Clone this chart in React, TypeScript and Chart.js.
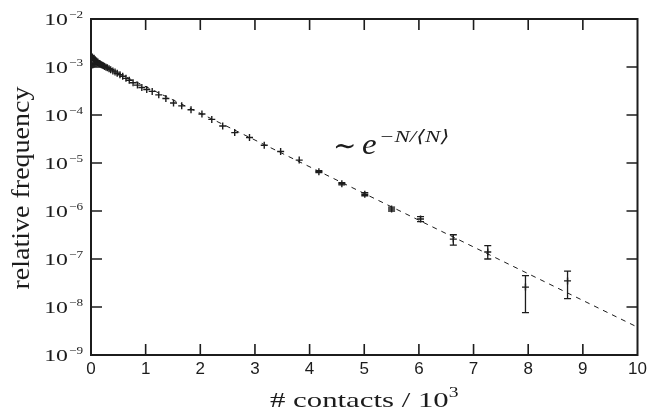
import React, { useEffect, useRef } from "react";
import { Chart, registerables } from "chart.js";

Chart.register(...registerables);

// ---- data (x in units of 10^3 contacts) ----
const contactsK = [
  0.005, 0.015, 0.025, 0.035, 0.045, 0.055, 0.065, 0.075, 0.085, 0.095, 0.105, 0.115, 0.125,
  0.14, 0.155, 0.17, 0.19, 0.21, 0.23, 0.25, 0.275, 0.3,
  0.33, 0.36, 0.4, 0.44, 0.48, 0.53, 0.58, 0.64, 0.7, 0.77, 0.85, 0.93,
  1.02, 1.12, 1.24, 1.37, 1.51, 1.66, 1.83,
  2.03, 2.21, 2.41, 2.63, 2.9, 3.17, 3.47, 3.81, 4.17, 4.59,
  5.01, 5.5, 6.03, 6.63, 7.26, 7.95, 8.72,
];
const relFreq = [
  1.75e-3, 1.1e-3, 1.62e-3, 1.12e-3, 1.5e-3, 1.15e-3, 1.42e-3, 1.18e-3, 1.36e-3, 1.2e-3, 1.31e-3, 1.21e-3, 1.27e-3,
  1.2e-3, 1.18e-3, 1.15e-3, 1.12e-3, 1.09e-3, 1.06e-3, 1.03e-3, 9.9e-4, 9.6e-4,
  9.2e-4, 8.8e-4, 8.3e-4, 7.9e-4, 7.4e-4, 6.9e-4, 6.4e-4, 5.8e-4, 5.3e-4, 4.7e-4, 4.2e-4, 3.75e-4,
  3.4e-4, 3.1e-4, 2.63e-4, 2.2e-4, 1.78e-4, 1.55e-4, 1.29e-4,
  1.05e-4, 8.1e-5, 5.9e-5, 4.3e-5, 3.4e-5, 2.35e-5, 1.74e-5, 1.15e-5, 6.6e-6, 3.7e-6,
  2.24e-6, 1.1e-6, 6.8e-7, 2.6e-7, 1.4e-7, 2.6e-8, 3.5e-8,
];
// error bars (only where they are visible)
const errX = [4.17, 4.59, 5.01, 5.5, 6.03, 6.63, 7.26, 7.95, 8.72];
const errLow = [6.3e-6, 3.5e-6, 2.08e-6, 1.0e-6, 6.0e-7, 1.95e-7, 1.0e-7, 7.6e-9, 1.5e-8];
const errHigh = [6.9e-6, 3.9e-6, 2.42e-6, 1.21e-6, 7.6e-7, 3.2e-7, 1.9e-7, 4.5e-8, 5.6e-8];
// exponential fit ~ exp(-N/<N>) (straight on a log axis)
const fitX = [0, 10];
const fitY = [1.41e-3, 3.8e-9];
// ticks
const xTickValues = [0, 1, 2, 3, 4, 5, 6, 7, 8, 9, 10];
const yTickExponents = [-2, -3, -4, -5, -6, -7, -8, -9];

const SERIF = '"Liberation Serif", "DejaVu Serif", serif';
const SANS = '"Liberation Sans Narrow", "Liberation Sans", sans-serif';
const INK = "#1c1c1c";

function drawStretched(
  ctx: CanvasRenderingContext2D,
  text: string,
  x: number,
  y: number,
  font: string,
  align: "left" | "center" | "right",
  stretch: number,
  baseline: CanvasTextBaseline = "middle"
) {
  ctx.save();
  ctx.font = font;
  ctx.textBaseline = baseline;
  ctx.textAlign = "left";
  const w = ctx.measureText(text).width * stretch;
  const x0 = align === "right" ? x - w : align === "center" ? x - w / 2 : x;
  ctx.translate(x0, y);
  ctx.scale(stretch, 1);
  ctx.fillText(text, 0, 0);
  ctx.restore();
  return w;
}

function drawFitWidth(
  ctx: CanvasRenderingContext2D,
  text: string,
  cx: number,
  cy: number,
  font: string,
  width: number
) {
  ctx.save();
  ctx.font = font;
  const s = width / ctx.measureText(text).width;
  ctx.restore();
  drawStretched(ctx, text, cx, cy, font, "center", s);
}

const framePlugin = {
  id: "frameAndText",
  afterDatasetsDraw(chart: any) {
    const ctx: CanvasRenderingContext2D = chart.ctx;
    const xs = chart.scales.x;
    const ys = chart.scales.y;
    ctx.save();
    ctx.strokeStyle = INK;
    ctx.lineWidth = 1.3;
    for (let i = 0; i < errX.length; i++) {
      const px = xs.getPixelForValue(errX[i]);
      const lo = ys.getPixelForValue(errLow[i]);
      const hi = ys.getPixelForValue(errHigh[i]);
      ctx.beginPath();
      ctx.moveTo(px, lo);
      ctx.lineTo(px, hi);
      ctx.moveTo(px - 3.5, lo);
      ctx.lineTo(px + 3.5, lo);
      ctx.moveTo(px - 3.5, hi);
      ctx.lineTo(px + 3.5, hi);
      ctx.stroke();
    }
    ctx.restore();
  },
  afterDraw(chart: any) {
    const ctx: CanvasRenderingContext2D = chart.ctx;
    const { left, right, top, bottom } = chart.chartArea;
    const xs = chart.scales.x;
    const ys = chart.scales.y;
    ctx.save();
    ctx.strokeStyle = INK;
    ctx.fillStyle = INK;
    // frame
    ctx.lineWidth = 2;
    ctx.strokeRect(left, top, right - left, bottom - top);
    // inward ticks
    ctx.lineWidth = 1.6;
    const tl = 11;
    ctx.beginPath();
    for (const v of xTickValues) {
      const px = xs.getPixelForValue(v);
      if (px <= left + 1 || px >= right - 1) continue;
      ctx.moveTo(px, bottom);
      ctx.lineTo(px, bottom - tl);
      ctx.moveTo(px, top);
      ctx.lineTo(px, top + tl);
    }
    for (const e of yTickExponents) {
      const py = ys.getPixelForValue(Math.pow(10, e));
      if (py <= top + 1 || py >= bottom - 1) continue;
      ctx.moveTo(left, py);
      ctx.lineTo(left + tl, py);
      ctx.moveTo(right, py);
      ctx.lineTo(right - tl, py);
    }
    ctx.stroke();

    // x tick labels
    for (const v of xTickValues) {
      const px = xs.getPixelForValue(v);
      drawStretched(ctx, String(v), px, bottom + 14, `17px ${SANS}`, "center", 1.0);
    }
    // y tick labels 10^e
    for (const e of yTickExponents) {
      const py = ys.getPixelForValue(Math.pow(10, e));
      const expText = "\u2212" + String(-e);
      const w = drawStretched(ctx, expText, left - 8, py - 4, `11px ${SERIF}`, "right", 1.2);
      drawStretched(ctx, "10", left - 8 - w - 1, py + 2, `17px ${SERIF}`, "right", 1.4);
    }
    // x title
    const cx = (left + right) / 2;
    ctx.save();
    ctx.font = `22px ${SERIF}`;
    const mainPart = "# contacts / 10";
    const s1 = 1.4;
    const wMain = ctx.measureText(mainPart).width * s1;
    ctx.font = `14px ${SERIF}`;
    const wSup = ctx.measureText("3").width * s1;
    ctx.restore();
    const x0 = cx - (wMain + wSup) / 2;
    drawStretched(ctx, mainPart, x0, 407, `22px ${SERIF}`, "left", s1, "alphabetic");
    drawStretched(ctx, "3", x0 + wMain, 397, `14px ${SERIF}`, "left", s1, "alphabetic");

    // y title (rotated)
    ctx.save();
    ctx.translate(22, (top + bottom) / 2 + 1);
    ctx.rotate(-Math.PI / 2);
    drawFitWidth(ctx, "relative frequency", 0, 0, `25px ${SERIF}`, 203);
    ctx.restore();

    // annotation ~ e^{-N/<N>}
    drawStretched(ctx, "\u223C", 333, 148, `28px ${SERIF}`, "left", 1.0);
    drawStretched(ctx, "e", 362, 154, `italic 30px ${SERIF}`, "left", 1.1, "alphabetic");
    drawStretched(ctx, "\u2212N/\u27E8N\u27E9", 379, 142, `italic 17px ${SERIF}`, "left", 1.35, "alphabetic");
    ctx.restore();
  },
};

export default function App() {
  const canvasRef = useRef<HTMLCanvasElement | null>(null);

  useEffect(() => {
    if (!canvasRef.current) return;
    const points = contactsK.map((x, i) => ({ x, y: relFreq[i] }));
    const fit = fitX.map((x, i) => ({ x, y: fitY[i] }));
    const chart = new Chart(canvasRef.current, {
      type: "scatter",
      data: {
        datasets: [
          {
            type: "line",
            label: "fit",
            data: fit,
            borderColor: INK,
            borderWidth: 1,
            borderDash: [5, 5],
            pointRadius: 0,
            fill: false,
            order: 2,
          } as any,
          {
            label: "data",
            data: points,
            pointStyle: "cross",
            pointRadius: 3.5,
            pointHoverRadius: 3.5,
            borderColor: INK,
            backgroundColor: INK,
            borderWidth: 1.4,
            showLine: false,
            order: 1,
          },
        ],
      },
      options: {
        animation: false,
        responsive: true,
        maintainAspectRatio: false,
        layout: { padding: { left: 91, right: 9.5, top: 19, bottom: 61 } },
        plugins: { legend: { display: false }, tooltip: { enabled: false } },
        events: [],
        scales: {
          x: { type: "linear", min: 0, max: 10, display: false },
          y: { type: "logarithmic", min: 1e-9, max: 1e-2, display: false },
        },
      },
      plugins: [framePlugin],
    });
    return () => chart.destroy();
  }, []);

  return (
    <div style={{ position: "fixed", left: 0, top: 0, width: 647, height: 416, background: "#fff" }}>
      <canvas ref={canvasRef} />
    </div>
  );
}
